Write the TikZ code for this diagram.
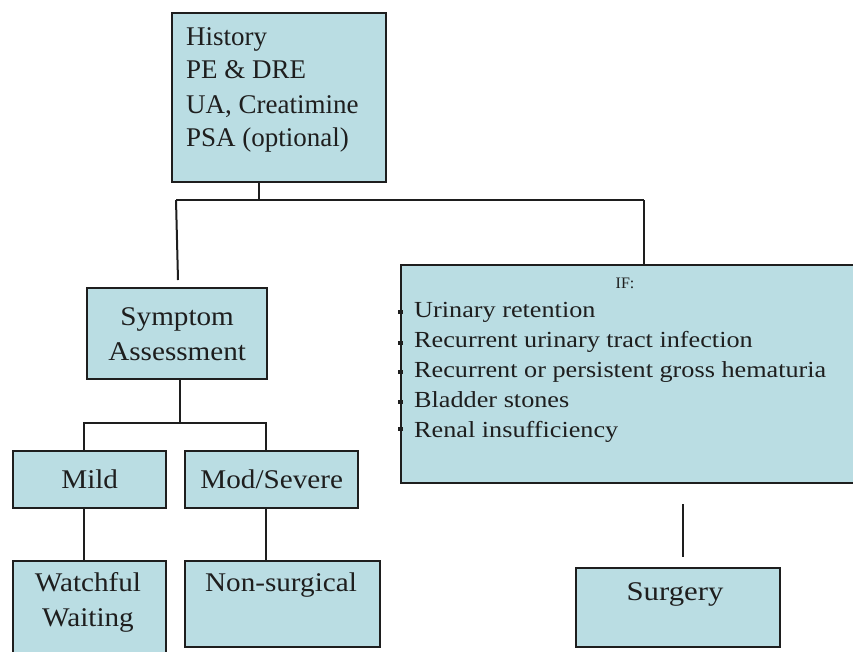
\documentclass[tikz,border=0pt]{standalone}
\usepackage{fontspec}
\setmainfont{Liberation Serif}
\newfontfamily\tms{Liberation Serif}
\newfontfamily\tmsw[FakeStretch=1.08]{Liberation Serif}
\newfontfamily\tmsl[FakeStretch=1.14]{Liberation Serif}
\usetikzlibrary{calc}
\definecolor{boxfill}{RGB}{186,221,227}
\definecolor{ink}{RGB}{30,30,30}
\begin{document}
\begin{tikzpicture}[x=1pt,y=-1pt,
  box/.style={draw=ink,line width=2.4pt,fill=boxfill,rectangle,inner sep=0pt,anchor=north west},
  conn/.style={draw=ink,line width=2pt},
  big/.style={font=\tms\fontsize{27}{33}\selectfont,text=ink},
  wide/.style={font=\tmsw\fontsize{27}{35}\selectfont,text=ink},
  mid/.style={font=\tmsl\fontsize{23}{30}\selectfont,text=ink}]
\useasboundingbox (0,0) rectangle (853,651);
% boxes
\node[box,minimum width=214pt,minimum height=169pt] (top) at (171,12) {};
\node[big,anchor=north west,align=left,inner sep=0pt] (topT) at (186,27)
  {History\\PE \& DRE\\[2pt]UA, Creatimine\\PSA (optional)};
\node[box,minimum width=180pt,minimum height=91pt,wide,align=center] (sym) at (86,287)
  {Symptom\\Assessment};
\node[box,minimum width=455pt,minimum height=218pt] (ifb) at (400,264) {};
\node[font=\tms\fontsize{16}{18}\selectfont,text=ink,inner sep=0pt] (ifT) at (625,283) {IF:};
\node[mid,anchor=north west,align=left,inner sep=0pt] (ifL) at (414,302)
  {Urinary retention\\Recurrent urinary tract infection\\Recurrent or persistent gross hematuria\\Bladder stones\\Renal insufficiency};
\foreach \i/\yy in {1/310,2/341,3/370,4/400,5/427}
  \fill[ink] (398,\yy) rectangle (403,\yy+4);
\node[box,minimum width=153pt,minimum height=57pt,wide] (mild) at (12,450) {Mild};
\node[box,minimum width=173pt,minimum height=57pt,wide] (mod) at (184,450) {Mod/Severe};
\node[box,minimum width=153pt,minimum height=100pt] (watch) at (12,560) {};
\node[wide,align=center,inner sep=0pt] (watchT) at (88,602) {Watchful\\Waiting};
\node[box,minimum width=195pt,minimum height=86pt] (nons) at (184,560) {};
\node[wide,inner sep=0pt] (nonsT) at (281,585) {Non-surgical};
\node[box,minimum width=204pt,minimum height=79pt] (surg) at (575,567) {};
\node[font=\tmsl\fontsize{27}{33}\selectfont,text=ink,inner sep=0pt] (surgT) at (675,594) {Surgery};
% connectors
\coordinate (hs) at (259,200);
\coordinate (hL) at (176,200);
\coordinate (hR) at (644,200);
\coordinate (sTop) at (178,280);
\coordinate (j2) at (180,423);
\coordinate (mL) at (84,423);
\coordinate (mR) at (266,423);
\coordinate (sx) at (683,0);
\draw[conn] (top.south -| hs) -- (hs);
\draw[conn] (hL) -- (hR);
\draw[conn] (hL) -- (sTop);
\draw[conn] (hR) -- (ifb.north -| hR);
\draw[conn] (sym.south -| j2) -- (j2);
\draw[conn] (mild.north -| mL) -- (mL) -- (mR) -- (mod.north -| mR);
\draw[conn] (mild.south -| mL) -- (watch.north -| mL);
\draw[conn] (mod.south -| mR) -- (nons.north -| mR);
\draw[conn] ($(ifb.south -| sx)+(0,20)$) -- ($(surg.north -| sx)+(0,-10)$);
\end{tikzpicture}
\end{document}
